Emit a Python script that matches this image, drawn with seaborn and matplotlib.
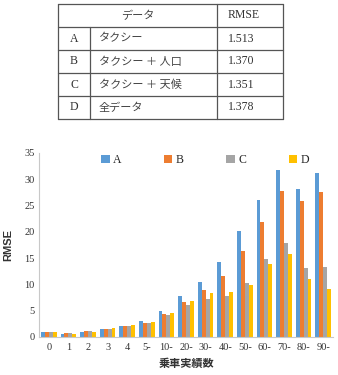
import pandas as pd
import seaborn as sns
import numpy as np
import matplotlib.pyplot as plt

# chart values
cats = ['0', '1', '2', '3', '4', '5-', '10-', '20-', '30-', '40-', '50-', '60-', '70-', '80-', '90-']
rmse_a = [1.0, 0.5, 1.0, 1.6, 2.0, 3.0, 4.9, 7.8, 10.4, 14.2, 20.2, 26.1, 31.8, 28.1, 31.2]
rmse_b = [1.0, 0.7, 1.2, 1.6, 2.0, 2.7, 4.4, 6.6, 8.9, 11.6, 16.4, 21.9, 27.7, 25.8, 27.5]
rmse_c = [1.0, 0.7, 1.2, 1.6, 2.0, 2.7, 4.1, 6.1, 7.3, 7.8, 10.2, 14.8, 17.8, 13.1, 13.4]
rmse_d = [1.0, 0.5, 1.0, 1.7, 2.2, 2.9, 4.6, 6.9, 8.3, 8.6, 9.9, 13.9, 15.7, 11.1, 9.1]

# table values
tbl_keys = ['A', 'B', 'C', 'D']
tbl_names = ['タクシー', 'タクシー ＋ 人口', 'タクシー ＋ 天候', '全データ']
tbl_rmse = ['1.513', '1.370', '1.351', '1.378']

palette = ['#5B9BD5', '#ED7D31', '#A5A5A5', '#FFC000']
serif = ['Liberation Serif', 'DejaVu Serif']
jp = ['Noto Sans CJK JP', 'DejaVu Sans']

df = pd.DataFrame({'cat': cats * 4,
                   'series': np.repeat(tbl_keys, len(cats)),
                   'rmse': rmse_a + rmse_b + rmse_c + rmse_d})

sns.set_style('white')
fig = plt.figure(figsize=(3.38, 3.75), dpi=100)

# ---- table on top (pixel coordinates) ----
tax = fig.add_axes([0, 0, 1, 1])
tax.set_xlim(0, 338)
tax.set_ylim(375, 0)
tax.axis('off')
x0, x1, x2, x3 = 58, 90, 217, 283
ys = [4, 27, 50, 73, 96, 119]
lc = '#555555'
for y in ys:
    tax.plot([x0, x3], [y, y], color=lc, lw=0.9)
for x in [x0, x2, x3]:
    tax.plot([x, x], [ys[0], ys[-1]], color=lc, lw=0.9)
tax.plot([x1, x1], [ys[1], ys[-1]], color=lc, lw=0.9)
tax.text((x0 + x2) / 2, (ys[0] + ys[1]) / 2, 'データ', family=jp, fontsize=8,
         ha='center', va='center', color='#444444')
tax.text(228, (ys[0] + ys[1]) / 2, 'RMSE', family=serif, fontsize=8.5,
         ha='left', va='center', color='#333333')
for i in range(4):
    yc = (ys[i + 1] + ys[i + 2]) / 2
    tax.text((x0 + x1) / 2, yc, tbl_keys[i], family=serif, fontsize=8.5,
             ha='center', va='center', color='#333333')
    tax.text(99, yc, tbl_names[i], family=jp, fontsize=8,
             ha='left', va='center', color='#444444')
    tax.text(228, yc, tbl_rmse[i], family=serif, fontsize=8.5,
             ha='left', va='center', color='#333333')

# ---- bar chart ----
ax = fig.add_axes([39 / 338, 38 / 375, 294 / 338, 184 / 375])
sns.barplot(data=df, x='cat', y='rmse', hue='series', palette=palette,
            width=0.8, gap=0, saturation=1, linewidth=0, ax=ax, legend=True)
ax.set_ylim(0, 35)
ax.set_yticks(range(0, 36, 5))
ax.set_xlim(-0.5, len(cats) - 0.5)
for lab in ax.get_xticklabels() + ax.get_yticklabels():
    lab.set_family(serif)
    lab.set_fontsize(7.5)
    lab.set_color('#333333')
ax.set_xticks(np.arange(-0.5, len(cats), 1), minor=True)
ax.tick_params(axis='x', which='major', length=0, pad=4)
ax.tick_params(axis='x', which='minor', length=3, color='#c8c8c8', width=0.8)
ax.tick_params(axis='y', length=0, pad=3)
for s in ['top', 'right']:
    ax.spines[s].set_visible(False)
for s in ['left', 'bottom']:
    ax.spines[s].set_color('#c8c8c8')
    ax.spines[s].set_linewidth(0.8)
ax.set_ylabel('RMSE', family=['Liberation Sans', 'DejaVu Sans'], fontsize=8,
              fontweight='bold', color='#333333', labelpad=8)
ax.set_xlabel('乗車実績数', family=jp, fontsize=8, fontweight='bold',
              color='#333333', labelpad=4)
leg = ax.legend(loc='upper center', ncol=4, frameon=False,
                bbox_to_anchor=(0.565, 1.05), handlelength=0.7, handleheight=0.7,
                handletextpad=0.3, columnspacing=3.6, prop={'family': serif, 'size': 8.5})

fig.savefig('out.png', dpi=100)
